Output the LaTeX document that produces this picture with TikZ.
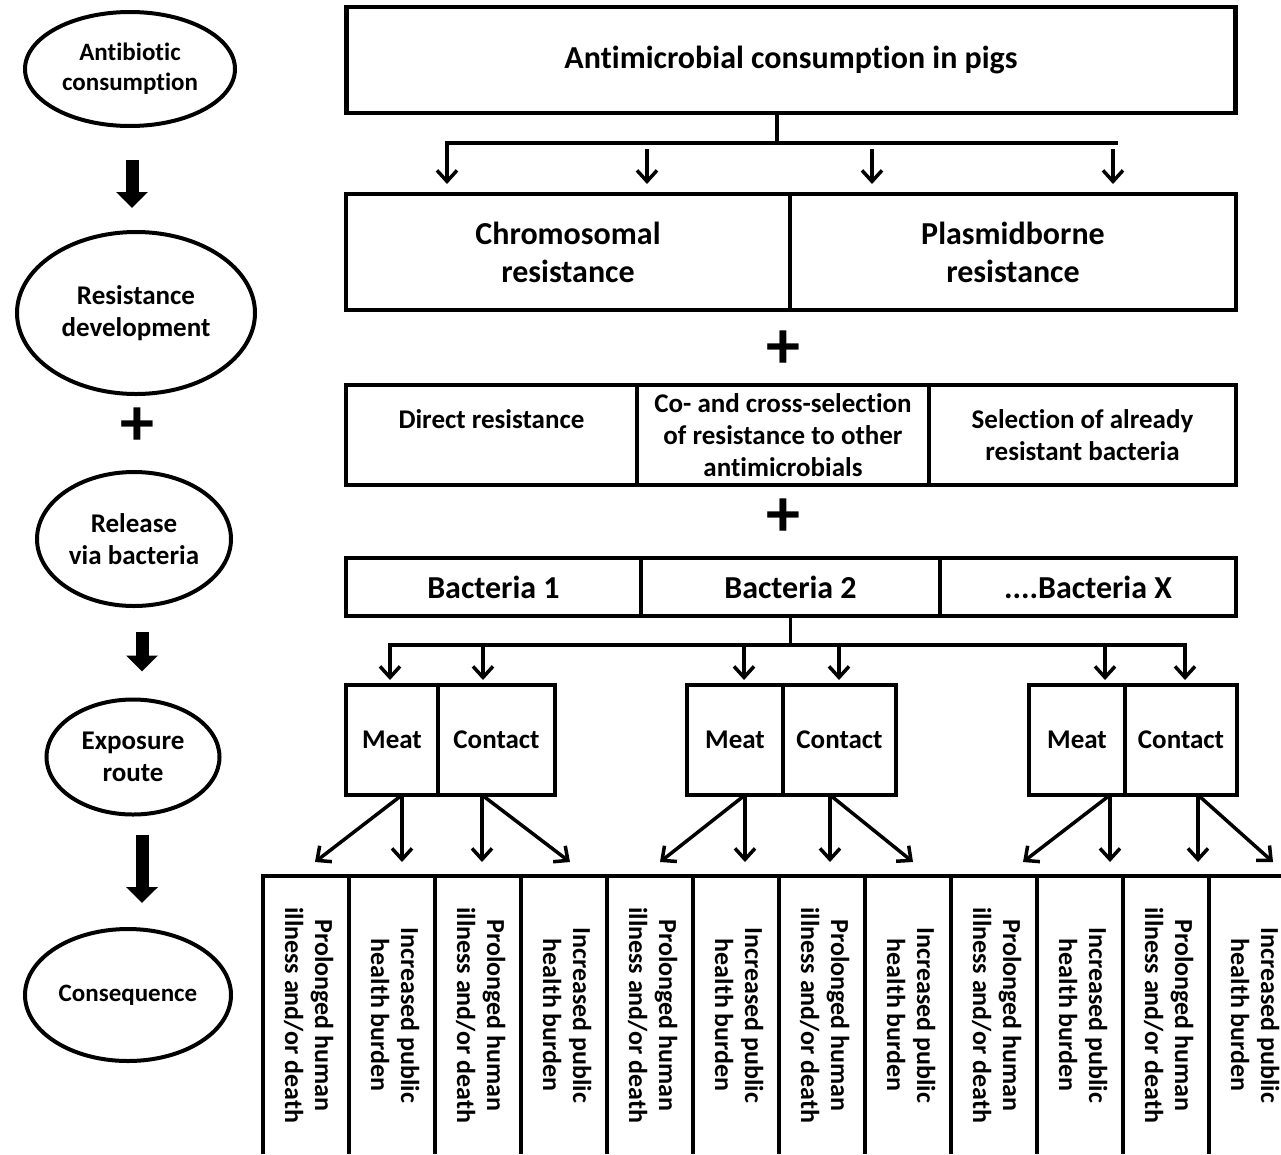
\documentclass[tikz,border=0pt]{standalone}
\usepackage{fontspec}
\usepackage{graphicx}
\setmainfont{Carlito}[Ligatures=NoCommon]
\usetikzlibrary{positioning,shapes.geometric,arrows.meta}

\begin{document}
\begin{tikzpicture}[x=1pt,y=-1pt,font=\bfseries,
	box/.style={draw,line width=4.5pt,outer sep=0pt,inner sep=0pt,align=center},
	oval/.style={draw,ellipse,line width=4pt,inner sep=0pt,align=center,font=\fontsize{27}{32}\selectfont\bfseries},
	col/.style={anchor=north,minimum width=86pt,minimum height=278pt,inner sep=0pt,font=\fontsize{26}{30}\selectfont\bfseries},
	bigtxt/.style={font=\fontsize{32}{38}\selectfont\bfseries},
	midtxt/.style={font=\fontsize{27}{32}\selectfont\bfseries},
	plus/.style={font=\fontsize{68}{68}\selectfont\bfseries},
	bus/.style={line width=3.5pt,line cap=rect},
	arr/.style={line width=3.5pt,-{Straight Barb[length=11pt,width=20pt]}},
	fat/.style={line width=13pt,-{Triangle[length=16pt,width=31pt]}}]
	\useasboundingbox (0,0) rectangle (1281,1154);

	% stages on the left
	\node[oval,minimum width=210pt,minimum height=114pt,font=\fontsize{25}{30}\selectfont\bfseries] (o_1) at (130,69) {Antibiotic\\consumption};
	\node[oval,minimum width=238pt,minimum height=162pt] (o_2) at (136,313) {Resistance\\development};
	\node[plus] (pl_1) at (137,427) {+};
	\node[oval,minimum width=194pt,minimum height=134pt] (o_3) at (134,539) {Release\\via bacteria};
	\node[oval,minimum width=173pt,minimum height=115pt] (o_4) at (133,757) {Exposure\\route};
	\node[oval,minimum width=206pt,minimum height=132pt,font=\fontsize{25}{30}\selectfont\bfseries] (o_5) at (128,995) {Consequence};
	\draw[fat,shorten <=32pt,shorten >=22pt] ([xshift=2pt]o_1.south) -- ([xshift=-4pt]o_2.north);
	\draw[fat,shorten <=24pt,shorten >=26pt] ([xshift=8pt]o_3.south) -- ([xshift=9pt]o_4.north);
	\draw[fat,shorten <=18pt,shorten >=24pt] ([xshift=9pt]o_4.south) -- ([xshift=14pt]o_5.north);

	% boxes
	\node[box,bigtxt,minimum width=889pt,minimum height=106pt] (top) at (791,60) {Antimicrobial consumption in pigs};
	\node[box,bigtxt,minimum width=444pt,minimum height=116pt] (chrom) at (568,252) {Chromosomal\\resistance};
	\node[box,bigtxt,minimum width=446pt,minimum height=116pt] (plasm) [right=0pt of chrom] {Plasmidborne\\resistance};
	\node[plus] (pl_2) at (783,350) {+};
	\node[box,midtxt,minimum width=291pt,minimum height=100pt] (direct) at (491.5,435) {Direct resistance\\\mbox{}};
	\node[box,midtxt,minimum width=292pt,minimum height=100pt] (cosel) [right=0pt of direct] {Co- and cross-selection\\of resistance to other\\antimicrobials};
	\node[box,midtxt,minimum width=307pt,minimum height=100pt] (presel) [right=0pt of cosel] {Selection of already\\resistant bacteria};
	\node[plus] (pl_3) at (783,518) {+};
	\node[box,bigtxt,minimum width=295pt,minimum height=58pt] (b_1) at (493.5,587) {Bacteria 1};
	\node[box,bigtxt,minimum width=299pt,minimum height=58pt] (b_2) [right=0pt of b_1] {Bacteria 2};
	\node[box,bigtxt,minimum width=296pt,minimum height=58pt] (b_x) [right=0pt of b_2] {....Bacteria X};
	\node[box,midtxt,minimum width=92pt,minimum height=110pt] (m_1) at (392,740) {Meat};
	\node[box,midtxt,minimum width=117pt,minimum height=110pt] (c_1) [right=0pt of m_1] {Contact};
	\node[box,midtxt,minimum width=96pt,minimum height=110pt] (m_2) at (735,740) {Meat};
	\node[box,midtxt,minimum width=113pt,minimum height=110pt] (c_2) [right=0pt of m_2] {Contact};
	\node[box,midtxt,minimum width=96pt,minimum height=110pt] (m_3) at (1077,740) {Meat};
	\node[box,midtxt,minimum width=112pt,minimum height=110pt] (c_3) [right=0pt of m_3] {Contact};

	% consequences
	\foreach \i in {1,3,...,11}
		\node[col] (k_\i) at (220+86*\i,876) {\rotatebox{-90}{\begin{tabular}{@{}c@{}}Prolonged human\\illness and/or death\end{tabular}}};
	\foreach \i in {2,4,...,12}
		\node[col] (k_\i) at (220+86*\i,876) {\rotatebox{-90}{\begin{tabular}{@{}c@{}}Increased public\\health burden\end{tabular}}};
	\draw[line width=4.5pt] (k_1.south west) -- (k_1.north west) -- (k_12.north east);
	\foreach \i in {2,...,12}
		\draw[line width=4.5pt] (k_\i.north west) -- (k_\i.south west);

	% connectors
	\coordinate (j) at (777,143);
	\foreach \x [count=\n] in {447,647,872,1113}
		\coordinate (a_\n) at (\x,143);
	\draw[bus] (j |- top.south) -- (j);
	\draw[bus] (a_1) -- ([xshift=3pt]a_4);
	\path[arr,shorten >=10pt]
		(a_1) edge (a_1 |- chrom.north)
		(a_2) edge[shorten <=6pt] (a_2 |- chrom.north)
		(a_3) edge[shorten <=6pt] (a_3 |- plasm.north)
		(a_4) edge[shorten <=6pt] (a_4 |- plasm.north);

	\foreach \x [count=\n] in {390,483,744,839,1105,1185}
		\coordinate (d_\n) at (\x,645);
	\draw[bus] (b_2.south) -- (b_2.south |- d_1);
	\draw[bus] (d_1) -- (d_6);
	\foreach \n in {1,...,6}
		\draw[arr,shorten >=5pt] (d_\n) -- (d_\n |- m_1.north);

	\foreach \x [count=\n] in {315,402,482,570,660,745,830,913,1023,1110,1198,1273}
		\coordinate (t_\n) at (\x,862);
	\path[arr]
		(m_1.south -| t_2) edge (t_1) edge (t_2)
		(c_1.south -| t_3) edge (t_3) edge (t_4)
		(m_2.south -| t_6) edge (t_5) edge (t_6)
		(c_2.south -| t_7) edge (t_7) edge (t_8)
		(m_3.south -| t_10) edge (t_9) edge (t_10)
		(c_3.south -| t_11) edge (t_11) edge (t_12);
\end{tikzpicture}
\end{document}
